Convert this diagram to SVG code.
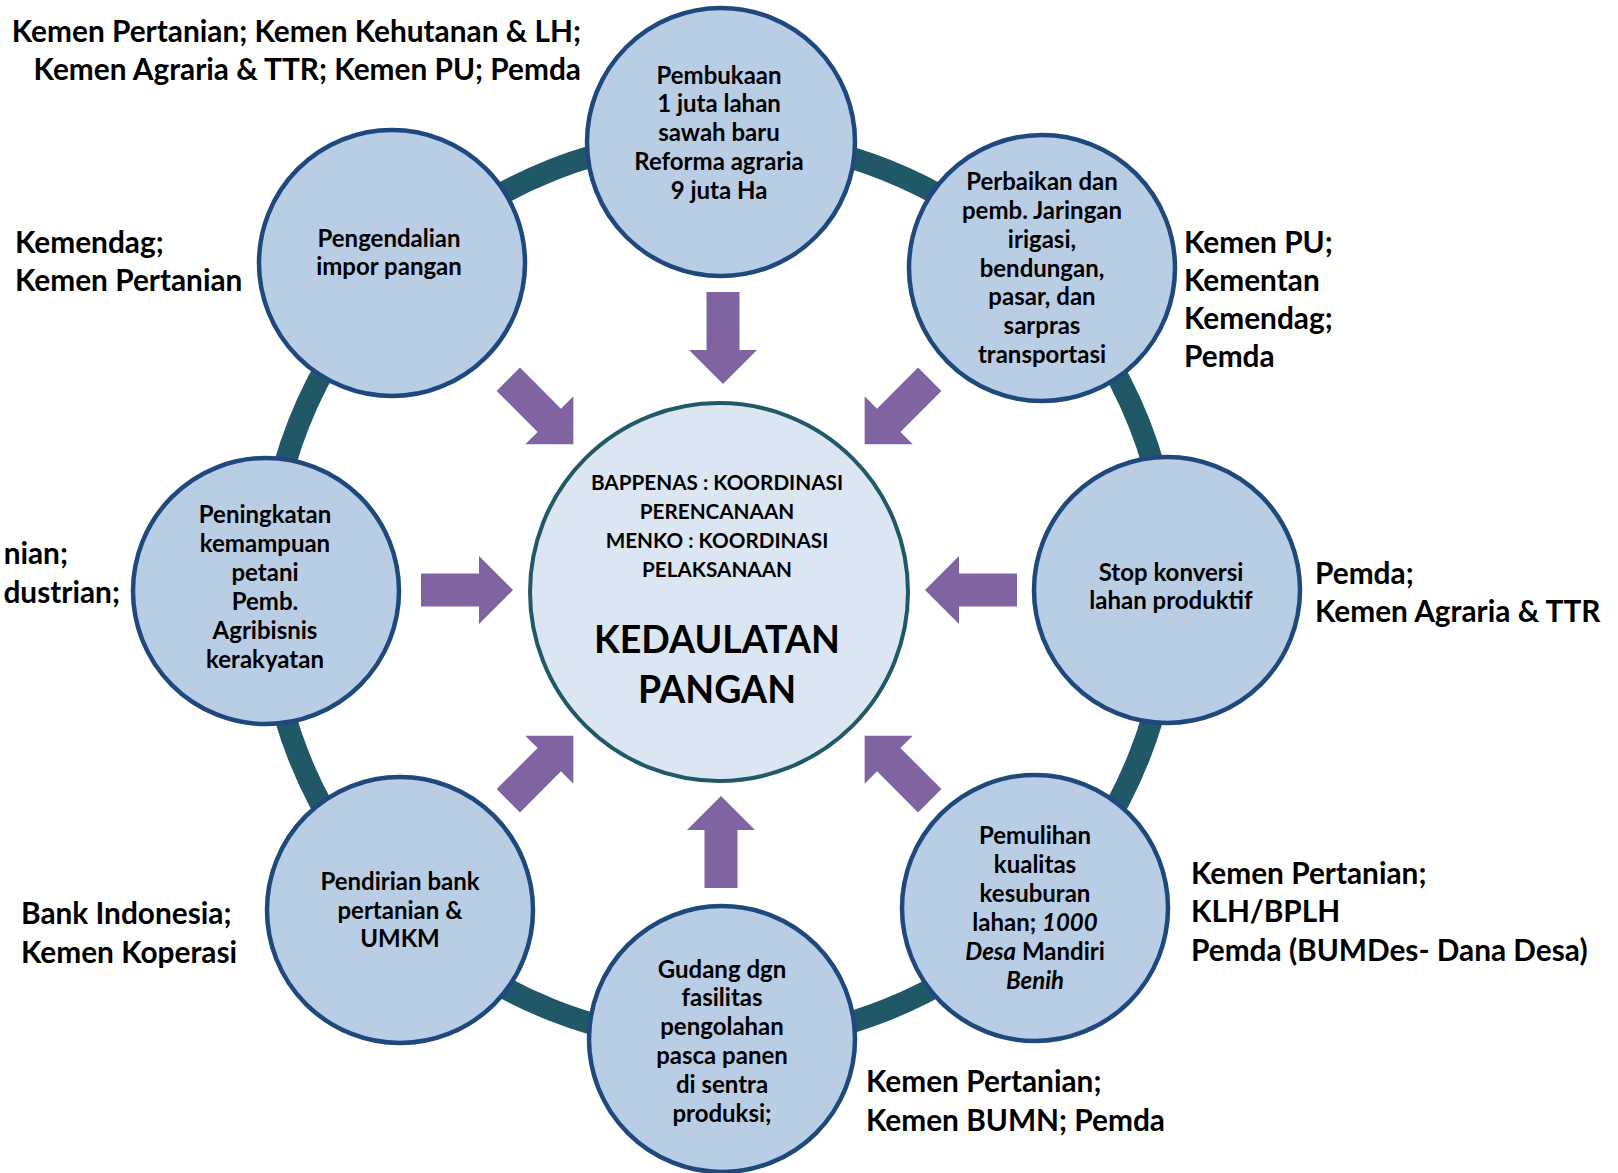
<svg xmlns="http://www.w3.org/2000/svg" width="1618" height="1173" viewBox="0 0 1618 1173">
<style>
.lbl{font-family:Lato,"Liberation Sans",sans-serif;font-weight:700;font-size:29.8px;fill:#000}
.nt{font-family:Lato,"Liberation Sans",sans-serif;font-weight:700;font-size:24px;fill:#000;text-anchor:middle}
.ct{font-family:Lato,"Liberation Sans",sans-serif;font-weight:700;font-size:20.7px;fill:#000;text-anchor:middle}
.big{font-family:Lato,"Liberation Sans",sans-serif;font-weight:700;font-size:37.5px;fill:#000;text-anchor:middle}
.sat{fill:#B9CDE5;stroke:#1F497D;stroke-width:4.5}
.arr{fill:#8064A2}
.it{font-style:italic}
</style>
<defs>
<path id="arrow" d="M-298,-16.5 L-240,-16.5 L-240,-34 L-206,0 L-240,34 L-240,16.5 L-298,16.5 Z"/>
</defs>
<rect width="1618" height="1173" fill="#fff"/>
<g id="connectors">
<circle cx="719" cy="590" r="452" fill="none" stroke="#215868" stroke-width="22"/>
<g transform="translate(719,590)">
<use href="#arrow" class="arr" transform="rotate(0)"/>
<use href="#arrow" class="arr" transform="rotate(45)"/>
<use href="#arrow" class="arr" transform="translate(4,0) rotate(90)"/>
<use href="#arrow" class="arr" transform="rotate(135)"/>
<use href="#arrow" class="arr" transform="rotate(180)"/>
<use href="#arrow" class="arr" transform="rotate(225)"/>
<use href="#arrow" class="arr" transform="translate(2,0) rotate(270)"/>
<use href="#arrow" class="arr" transform="rotate(315)"/>
</g>
</g>
<g id="center">
<circle cx="719" cy="592" r="189" fill="#DCE6F2" stroke="#215868" stroke-width="4"/>
<text class="ct" x="717" y="490">BAPPENAS : KOORDINASI</text>
<text class="ct" x="717" y="519">PERENCANAAN</text>
<text class="ct" x="717" y="548">MENKO : KOORDINASI</text>
<text class="ct" x="717" y="577">PELAKSANAAN</text>
<text class="big" x="717" y="653">KEDAULATAN</text>
<text class="big" x="717" y="703">PANGAN</text>
</g>
<g id="n-top">
<circle class="sat" cx="721" cy="142" r="134"/>
<text class="nt" x="719" y="84">Pembukaan</text>
<text class="nt" x="719" y="112">1 juta lahan</text>
<text class="nt" x="719" y="141">sawah baru</text>
<text class="nt" x="719" y="170">Reforma agraria</text>
<text class="nt" x="719" y="199">9 juta Ha</text>
</g>
<g id="n-upright">
<circle class="sat" cx="1042" cy="268" r="133"/>
<text class="nt" x="1042" y="190">Perbaikan dan</text>
<text class="nt" x="1042" y="219">pemb. Jaringan</text>
<text class="nt" x="1042" y="248">irigasi,</text>
<text class="nt" x="1042" y="277">bendungan,</text>
<text class="nt" x="1042" y="305">pasar, dan</text>
<text class="nt" x="1042" y="334">sarpras</text>
<text class="nt" x="1042" y="363">transportasi</text>
</g>
<g id="n-right">
<circle class="sat" cx="1167" cy="590" r="133"/>
<text class="nt" x="1171" y="581">Stop konversi</text>
<text class="nt" x="1171" y="609">lahan produktif</text>
</g>
<g id="n-downright">
<circle class="sat" cx="1035" cy="908" r="133"/>
<text class="nt" x="1035" y="844">Pemulihan</text>
<text class="nt" x="1035" y="873">kualitas</text>
<text class="nt" x="1035" y="902">kesuburan</text>
<text class="nt" x="1035" y="931">lahan; <tspan class="it">1000</tspan></text>
<text class="nt" x="1035" y="960"><tspan class="it">Desa</tspan> Mandiri</text>
<text class="nt it" x="1035" y="989">Benih</text>
</g>
<g id="n-bottom">
<circle class="sat" cx="722" cy="1039" r="133"/>
<text class="nt" x="722" y="978">Gudang dgn</text>
<text class="nt" x="722" y="1006">fasilitas</text>
<text class="nt" x="722" y="1035">pengolahan</text>
<text class="nt" x="722" y="1064">pasca panen</text>
<text class="nt" x="722" y="1093">di sentra</text>
<text class="nt" x="722" y="1122">produksi;</text>
</g>
<g id="n-downleft">
<circle class="sat" cx="400" cy="910" r="133"/>
<text class="nt" x="400" y="890">Pendirian bank</text>
<text class="nt" x="400" y="919">pertanian &amp;</text>
<text class="nt" x="400" y="947">UMKM</text>
</g>
<g id="n-left">
<circle class="sat" cx="266" cy="591" r="133"/>
<text class="nt" x="265" y="523">Peningkatan</text>
<text class="nt" x="265" y="552">kemampuan</text>
<text class="nt" x="265" y="581">petani</text>
<text class="nt" x="265" y="610">Pemb.</text>
<text class="nt" x="265" y="639">Agribisnis</text>
<text class="nt" x="265" y="668">kerakyatan</text>
</g>
<g id="n-upleft">
<circle class="sat" cx="392" cy="263" r="133"/>
<text class="nt" x="389" y="247">Pengendalian</text>
<text class="nt" x="389" y="275">impor pangan</text>
</g>
<g id="labels">
<text class="lbl" x="581" y="42" text-anchor="end">Kemen Pertanian; Kemen Kehutanan &amp; LH;</text>
<text class="lbl" x="581" y="80" text-anchor="end">Kemen Agraria &amp; TTR; Kemen PU; Pemda</text>
<text class="lbl" x="15" y="253">Kemendag;</text>
<text class="lbl" x="15" y="291">Kemen Pertanian</text>
<text class="lbl" x="68" y="564" text-anchor="end">nian;</text>
<text class="lbl" x="120" y="603" text-anchor="end">dustrian;</text>
<text class="lbl" x="1184" y="253">Kemen PU;</text>
<text class="lbl" x="1184" y="291">Kementan</text>
<text class="lbl" x="1184" y="329">Kemendag;</text>
<text class="lbl" x="1184" y="367">Pemda</text>
<text class="lbl" x="1315" y="584">Pemda;</text>
<text class="lbl" x="1315" y="622">Kemen Agraria &amp; TTR</text>
<text class="lbl" x="1191" y="884">Kemen Pertanian;</text>
<text class="lbl" x="1191" y="922">KLH/BPLH</text>
<text class="lbl" x="1191" y="961">Pemda (BUMDes- Dana Desa)</text>
<text class="lbl" x="866" y="1092">Kemen Pertanian;</text>
<text class="lbl" x="866" y="1131">Kemen BUMN; Pemda</text>
<text class="lbl" x="21" y="924">Bank Indonesia;</text>
<text class="lbl" x="21" y="963">Kemen Koperasi</text>
</g>
</svg>
